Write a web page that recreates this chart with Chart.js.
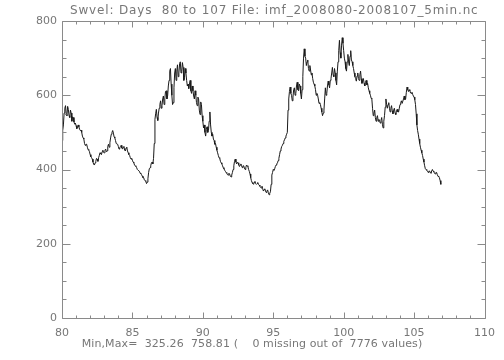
<!DOCTYPE html>
<html>
<head>
<meta charset="utf-8">
<script src="https://cdn.jsdelivr.net/npm/chart.js@4.4.1/dist/chart.umd.min.js"></script>
<style>
html,body{margin:0;padding:0;background:#fff;}
canvas{display:block;}
</style>
</head>
<body>
<canvas id="c" width="504" height="360"></canvas>
<script>
// ---- data ----
const TITLE = "Swvel: Days  80 to 107 File: imf_2008080-2008107_5min.nc";
const FOOTER = "Min,Max=  325.26  758.81 (    0 missing out of  7776 values)";
const DAY_START = 80.0;   // first sample (day of year)
const DAY_STEP = 0.05;    // sampling of the read values (days)
const xTickLabels = [80, 85, 90, 95, 100, 105, 110];
const yTickLabels = [0, 200, 400, 600, 800];
// solar wind speed (km/s), one value per 0.05 day
const swvel = [
  478,505,520,552,565,572,548,545,570,562,545,540,560,552,530,542,540,528,522,525, // 80
  518,510,512,520,515,508,505,506,500,490,485,482,470,465,468,468,460,454,452,448, // 81
  440,434,432,428,420,414,412,418,422,430,428,422,432,438,445,442,440,448,452,446, // 82
  445,452,455,448,450,462,468,460,472,485,495,500,505,498,488,485,478,470,470,468, // 83
  462,455,458,462,465,458,455,460,462,452,450,458,460,450,445,440,438,432,428,430, // 84
  425,420,418,412,410,408,405,400,398,398,395,390,388,386,382,378,378,372,370,368, // 85
  362,366,375,392,402,405,410,418,420,415,430,470,535,550,562,540,532,552,565,575, // 86
  585,565,572,590,598,575,590,610,612,590,598,625,640,665,672,630,600,575,580,620, // 87
  660,672,640,665,682,650,660,685,690,660,665,688,675,640,648,672,660,640,625,630, // 88
  618,630,640,612,605,625,612,598,590,612,600,580,572,595,590,560,548,582,575,545, // 89
  530,512,520,500,490,508,515,500,505,530,555,520,500,490,495,482,478,468,470,460, // 90
  452,445,438,432,430,422,418,415,410,405,402,398,395,392,390,386,385,390,388,382, // 91
  380,385,392,400,410,422,428,420,415,420,418,412,408,412,415,410,405,410,410,404, // 92
  400,405,412,410,408,400,395,388,378,370,365,362,360,365,368,362,360,362,365,360, // 93
  358,355,352,350,355,348,342,346,348,342,338,342,345,338,332,336,340,360,385,392, // 94
  400,398,402,408,412,415,418,424,430,440,450,455,462,465,470,476,480,485,490,495, // 95
  500,560,590,610,622,605,600,585,595,615,620,600,605,625,635,615,612,630,625,605, // 96
  590,615,650,700,725,705,700,680,690,695,672,665,680,668,655,660,645,635,630,625, // 97
  615,600,605,600,590,578,580,575,565,555,545,552,560,590,620,600,605,625,638,628, // 98
  620,640,645,660,675,655,650,672,660,640,628,665,690,720,748,715,700,735,755,740, // 99
  720,700,690,672,665,690,710,690,680,705,720,695,690,680,672,660,650,645,638,652, // 100
  660,645,640,655,665,645,632,640,645,632,625,635,640,628,632,620,612,605,600,592, // 101
  590,565,545,552,560,540,530,540,545,530,535,530,525,532,540,522,512,530,545,568, // 102
  590,575,565,575,580,565,555,565,572,558,550,560,565,552,548,558,562,555,555,565, // 103
  575,580,585,578,578,590,598,588,590,608,622,615,610,615,612,606,605,608,602,598, // 104
  595,588,575,550,520,505,495,482,470,460,452,445,438,428,420,410,402,400,398,395, // 105
  392,396,396,392,390,396,400,396,394,390,388,392,392,386,382,380,378,370,360      // 106
];

const points = swvel.map((v, i) => ({x: DAY_START + i * DAY_STEP, y: v}));

const AXIS = '#8a8a8a';
const TEXT = '#777777';
const FONT = '"DejaVu Sans", sans-serif';

const boxPlugin = {
  id: 'idlbox',
  afterDraw(chart) {
    const {ctx, chartArea: a, scales: {x, y}} = chart;
    ctx.save();
    ctx.strokeStyle = AXIS;
    ctx.lineWidth = 1;
    const L = Math.round(a.left) + 0.5, R = Math.round(a.right) + 0.5;
    const T = Math.round(a.top) + 0.5, B = Math.round(a.bottom) + 0.5;
    ctx.beginPath();
    ctx.rect(L, T, R - L, B - T);
    // x ticks (major every 5, minor every 1), inward on bottom and top
    for (let d = x.min; d <= x.max + 1e-9; d += 1) {
      const px = Math.round(x.getPixelForValue(d)) + 0.5;
      const len = (Math.round(d) % 5 === 0) ? 6 : 3;
      ctx.moveTo(px, B); ctx.lineTo(px, B - len);
      ctx.moveTo(px, T); ctx.lineTo(px, T + len);
    }
    // y ticks (major every 200, minor every 50), inward on left and right
    for (let v = y.min; v <= y.max + 1e-9; v += 50) {
      const py = Math.round(y.getPixelForValue(v)) + 0.5;
      const len = (Math.round(v) % 200 === 0) ? 8 : 4;
      ctx.moveTo(L, py); ctx.lineTo(L + len, py);
      ctx.moveTo(R, py); ctx.lineTo(R - len, py);
    }
    ctx.stroke();
    // title and footer
    ctx.fillStyle = TEXT;
    ctx.textAlign = 'center';
    ctx.textBaseline = 'middle';
    ctx.font = '12px ' + FONT;
    ctx.letterSpacing = '0.85px';
    ctx.fillText(TITLE, (a.left + a.right) / 2 + 1, 11);
    ctx.font = '11px ' + FONT;
    ctx.letterSpacing = '0.1px';
    ctx.fillText(FOOTER, 252, 344);
    ctx.restore();
  }
};

new Chart(document.getElementById('c'), {
  type: 'line',
  data: {
    datasets: [{
      data: points,
      borderColor: '#1a1a1a',
      borderWidth: 1,
      pointRadius: 0,
      tension: 0,
      fill: false
    }]
  },
  options: {
    responsive: false,
    animation: false,
    devicePixelRatio: 1,
    layout: {padding: {left: 0, top: 21, right: 19, bottom: 0}},
    plugins: {legend: {display: false}, tooltip: {enabled: false}, title: {display: false}},
    scales: {
      x: {
        type: 'linear', min: 80, max: 110,
        afterFit(s) { s.height = 42; },
        afterBuildTicks(s) { s.ticks = xTickLabels.map(v => ({value: v})); },
        grid: {display: false, drawTicks: false},
        border: {display: false},
        ticks: {color: TEXT, font: {family: FONT, size: 11}, padding: 9, maxRotation: 0, autoSkip: false}
      },
      y: {
        type: 'linear', min: 0, max: 800,
        afterFit(s) { s.width = 62; },
        afterBuildTicks(s) { s.ticks = yTickLabels.map(v => ({value: v})); },
        grid: {display: false, drawTicks: false},
        border: {display: false},
        ticks: {color: TEXT, font: {family: FONT, size: 11}, padding: 5}
      }
    }
  },
  plugins: [boxPlugin]
});
</script>
</body>
</html>
